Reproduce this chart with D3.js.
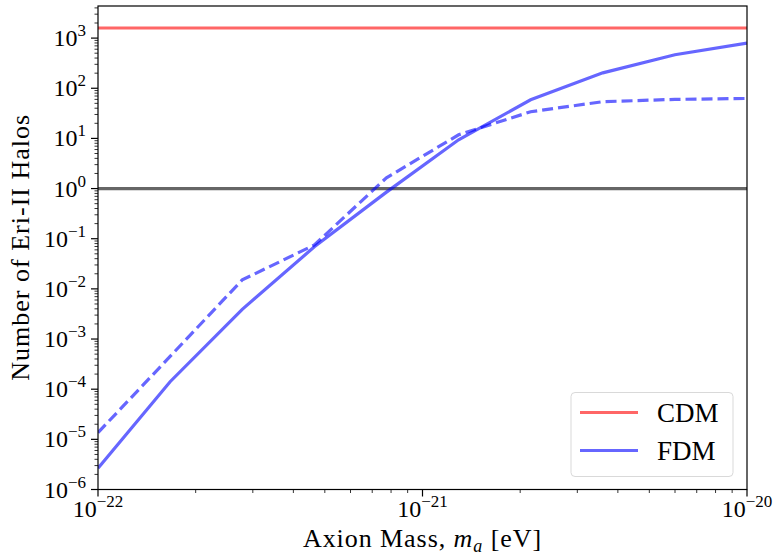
<!DOCTYPE html>
<html>
<head>
<meta charset="utf-8">
<script src="https://cdn.jsdelivr.net/npm/d3@7"></script>
<style>
  body { margin: 0; background: #fff; }
  text { font-family: "Liberation Serif", "DejaVu Serif", serif; fill: #000; }
</style>
</head>
<body>
<div id="chart"></div>
<script>
// axion mass grid (eV) and halo counts
var masses = [1e-22, 1.668e-22, 2.783e-22, 4.642e-22, 7.743e-22, 1.292e-21, 2.154e-21, 3.594e-21, 5.995e-21, 1e-20];
var fdmSolid = [2.65e-6, 1.41e-4, 3.9e-3, 0.069, 0.85, 9.4, 59, 203, 465, 795];
var fdmDashed = [1.36e-5, 4.5e-4, 0.0151, 0.075, 1.64, 11.8, 34, 54, 60, 62.5];
var cdmValue = 1590;
var unityValue = 1;
var xTickExp = [-22, -21, -20];
var yTickExp = [-6, -5, -4, -3, -2, -1, 0, 1, 2, 3];
var legendNames = ["CDM", "FDM"];

var W = 774, H = 557,
    margin = { top: 6, right: 27, bottom: 67.5, left: 98 },
    width = W - margin.left - margin.right,
    height = H - margin.top - margin.bottom;

var svg = d3.select("#chart").append("svg")
    .attr("width", W).attr("height", H);
var g = svg.append("g")
    .attr("transform", "translate(" + margin.left + "," + margin.top + ")");

var x = d3.scaleLog().domain([1e-22, 1e-20]).range([0, width]);
var y = d3.scaleLog().domain([1e-6, Math.pow(10, 3.64)]).range([height, 0]);

// minor ticks
var xMinor = [], yMinor = [];
for (var e = -22; e < -20; e++) for (var k = 2; k < 10; k++) xMinor.push(k * Math.pow(10, e));
for (var e2 = -6; e2 < 4; e2++) for (var k2 = 2; k2 < 10; k2++) {
  var v = k2 * Math.pow(10, e2);
  if (v <= y.domain()[1]) yMinor.push(v);
}

g.selectAll(".xminor").data(xMinor).enter().append("line")
  .attr("x1", function(d) { return x(d); }).attr("x2", function(d) { return x(d); })
  .attr("y1", height).attr("y2", height + 3.5)
  .attr("stroke", "#000").attr("stroke-width", 0.8);
g.selectAll(".yminor").data(yMinor).enter().append("line")
  .attr("y1", function(d) { return y(d); }).attr("y2", function(d) { return y(d); })
  .attr("x1", 0).attr("x2", -3.5)
  .attr("stroke", "#000").attr("stroke-width", 0.8);

// major ticks + labels
var xt = g.selectAll(".xtick").data(xTickExp).enter().append("g")
  .attr("transform", function(d) { return "translate(" + x(Math.pow(10, d)) + "," + height + ")"; });
xt.append("line").attr("y2", 7).attr("stroke", "#000").attr("stroke-width", 1.2);
var xl = xt.append("text").attr("y", 27).attr("text-anchor", "middle").style("font-size", "24px");
xl.append("tspan").text("10");
xl.append("tspan").attr("dy", -10).style("font-size", "17px").text(function(d) { return "\u2212" + Math.abs(d); });

var yt = g.selectAll(".ytick").data(yTickExp).enter().append("g")
  .attr("transform", function(d) { return "translate(0," + y(Math.pow(10, d)) + ")"; });
yt.append("line").attr("x2", -7).attr("stroke", "#000").attr("stroke-width", 1.2);
var yl = yt.append("text").attr("x", -12).attr("y", 8).attr("text-anchor", "end").style("font-size", "24px");
yl.append("tspan").text("10");
yl.append("tspan").attr("dy", -10).style("font-size", "17px")
  .text(function(d) { return d < 0 ? "\u2212" + Math.abs(d) : d; });

// clip
svg.append("defs").append("clipPath").attr("id", "clip")
  .append("rect").attr("width", width).attr("height", height);
var plot = g.append("g").attr("clip-path", "url(#clip)");

// reference lines
plot.append("line")
  .attr("x1", 0).attr("x2", width)
  .attr("y1", y(cdmValue)).attr("y2", y(cdmValue))
  .attr("stroke", "#ff0000").attr("stroke-opacity", 0.6).attr("stroke-width", 3.2);
plot.append("line")
  .attr("x1", 0).attr("x2", width)
  .attr("y1", y(unityValue)).attr("y2", y(unityValue))
  .attr("stroke", "#000").attr("stroke-opacity", 0.6).attr("stroke-width", 3.2);

var line = d3.line()
  .x(function(d) { return x(d[0]); })
  .y(function(d) { return y(d[1]); });

plot.append("path")
  .attr("d", line(d3.zip(masses, fdmDashed)))
  .attr("fill", "none").attr("stroke", "#0000ff").attr("stroke-opacity", 0.6)
  .attr("stroke-width", 3.2).attr("stroke-dasharray", "11,5");
plot.append("path")
  .attr("d", line(d3.zip(masses, fdmSolid)))
  .attr("fill", "none").attr("stroke", "#0000ff").attr("stroke-opacity", 0.6)
  .attr("stroke-width", 3.2);

// frame
g.append("rect").attr("width", width).attr("height", height)
  .attr("fill", "none").attr("stroke", "#000").attr("stroke-width", 1.2);

// legend
var lg = g.append("g").attr("transform", "translate(" + (width - 176) + "," + (height - 97) + ")");
lg.append("rect").attr("width", 162).attr("height", 84).attr("rx", 4)
  .attr("fill", "#fff").attr("fill-opacity", 0.8).attr("stroke", "#d9d9d9").attr("stroke-width", 1);
var legColors = ["#ff0000", "#0000ff"];
var li = lg.selectAll(".li").data(legendNames).enter().append("g")
  .attr("transform", function(d, i) { return "translate(0," + (20 + i * 38) + ")"; });
li.append("line").attr("x1", 9).attr("x2", 67)
  .attr("stroke", function(d, i) { return legColors[i]; })
  .attr("stroke-opacity", 0.6).attr("stroke-width", 3.2);
li.append("text").attr("x", 86).attr("y", 9).style("font-size", "27px").text(function(d) { return d; });

// axis labels
var xlab = svg.append("text")
  .attr("x", margin.left + width / 2).attr("y", 547)
  .attr("text-anchor", "middle").style("font-size", "26px");
xlab.append("tspan").text("Axion Mass, ");
xlab.append("tspan").style("font-style", "italic").text("m");
xlab.append("tspan").attr("dy", 5).style("font-size", "18px").style("font-style", "italic").text("a");
xlab.append("tspan").attr("dy", -5).text(" [eV]");
var xb = xlab.node().getBBox();
xlab.style("letter-spacing", ((240 - xb.width) / 20) + "px");

var ylab = svg.append("text")
  .attr("transform", "translate(29," + (margin.top + height / 2 - 0.5) + ") rotate(-90)")
  .attr("text-anchor", "middle").style("font-size", "26px")
  .text("Number of Eri-II Halos");
var yb = ylab.node().getBBox();
ylab.style("letter-spacing", ((267 - yb.width) / 22) + "px");
</script>
</body>
</html>
